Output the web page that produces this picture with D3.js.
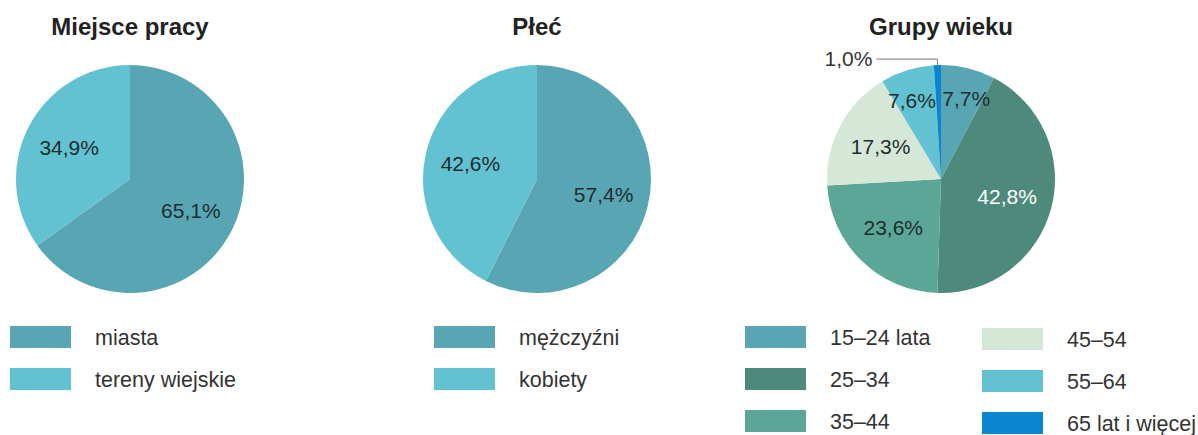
<!DOCTYPE html>
<html>
<head>
<meta charset="utf-8">
<script src="https://cdn.jsdelivr.net/npm/d3@7"></script>
<style>
  body { margin: 0; background: #fff; }
  svg { display: block; font-family: "Liberation Sans", Arial, sans-serif; }
</style>
</head>
<body>
<svg id="chart" width="1198" height="435"></svg>
<script>
// data
const workplaceLabels = ["miasta", "tereny wiejskie"];
const workplaceValues = [65.1, 34.9];
const sexLabels = ["mężczyźni", "kobiety"];
const sexValues = [57.4, 42.6];
const ageLabels = ["15–24 lata", "25–34", "35–44", "45–54", "55–64", "65 lat i więcej"];
const ageValues = [7.7, 42.8, 23.6, 17.3, 7.6, 1.0];

const workplaceColors = ["#58a6b4", "#63c2d1"];
const sexColors = ["#58a6b4", "#63c2d1"];
const ageColors = ["#58a6b4", "#4e8a7b", "#5ba696", "#d5e8d8", "#63c2d1", "#0a85d0"];

const svg = d3.select("#chart");
const radius = 114;
const fmt = v => d3.format(".1f")(v).replace(".", ",") + "%";

function drawPie(cx, cy, title, labels, values, colors, opts){
    const g = svg.append("g").attr("transform", `translate(${cx},${cy})`);
    svg.append("text")
        .attr("x", cx).attr("y", 35)
        .attr("text-anchor", "middle")
        .attr("font-size", 24).attr("font-weight", "bold")
        .attr("fill", "#222")
        .text(title);

    const color = d3.scaleOrdinal().domain(labels).range(colors);
    const pie = d3.pie().sort(null).value(d => d.value);
    const arcs = pie(labels.map((l, i) => ({label: l, value: values[i]})));
    const arc = d3.arc().innerRadius(0).outerRadius(radius);

    g.selectAll("path").data(arcs).enter().append("path")
        .attr("d", arc)
        .attr("fill", d => color(d.data.label));

    arcs.forEach(d => {
        if (d.data.value < 5) {
            // leader line for tiny slice
            const a = (d.startAngle + d.endAngle) / 2;
            const px = Math.sin(a) * radius, py = -Math.cos(a) * radius;
            g.append("polyline")
                .attr("points", `${px},${py} ${px},${py - 6} ${px - 61},${py - 6}`)
                .attr("fill", "none").attr("stroke", "#777").attr("stroke-width", 1);
            g.append("text")
                .attr("x", px - 65).attr("y", py - 6)
                .attr("dy", "0.35em")
                .attr("text-anchor", "end")
                .attr("font-size", 21).attr("fill", "#333")
                .text(fmt(d.data.value));
            return;
        }
        const small = d.data.value < 10;
        const lr = small ? radius * 0.74 : radius * 0.6;
        const labelArc = d3.arc().innerRadius(lr).outerRadius(lr);
        let [x, y] = labelArc.centroid(d);
        if (small) { x += x < 0 ? -4 : 5; y += 2; }
        g.append("text")
            .attr("x", x).attr("y", y)
            .attr("dy", "0.35em")
            .attr("text-anchor", "middle")
            .attr("font-size", 21)
            .attr("fill", opts && opts.white === d.data.label ? "#fff" : "#1e2e30")
            .text(fmt(d.data.value));
    });
    return color;
}

function drawLegend(x, y, labels, color, rows){
    labels.forEach((l, i) => {
        const col = Math.floor(i / rows), row = i % rows;
        const gx = x + col * 237, gy = y + row * 42 + col * 2;
        svg.append("rect")
            .attr("x", gx).attr("y", gy)
            .attr("width", 61).attr("height", 22)
            .attr("fill", color(l));
        svg.append("text")
            .attr("x", gx + 85).attr("y", gy + 11)
            .attr("dy", "0.35em")
            .attr("font-size", 21.5).attr("fill", "#333")
            .text(l);
    });
}

const c1 = drawPie(130, 179, "Miejsce pracy", workplaceLabels, workplaceValues, workplaceColors);
const c2 = drawPie(537, 179, "Płeć", sexLabels, sexValues, sexColors);
const c3 = drawPie(941, 179, "Grupy wieku", ageLabels, ageValues, ageColors, {white: "25–34"});

drawLegend(10, 326, workplaceLabels, c1, 2);
drawLegend(434, 326, sexLabels, c2, 2);
drawLegend(745, 326, ageLabels, c3, 3);
</script>
</body>
</html>
